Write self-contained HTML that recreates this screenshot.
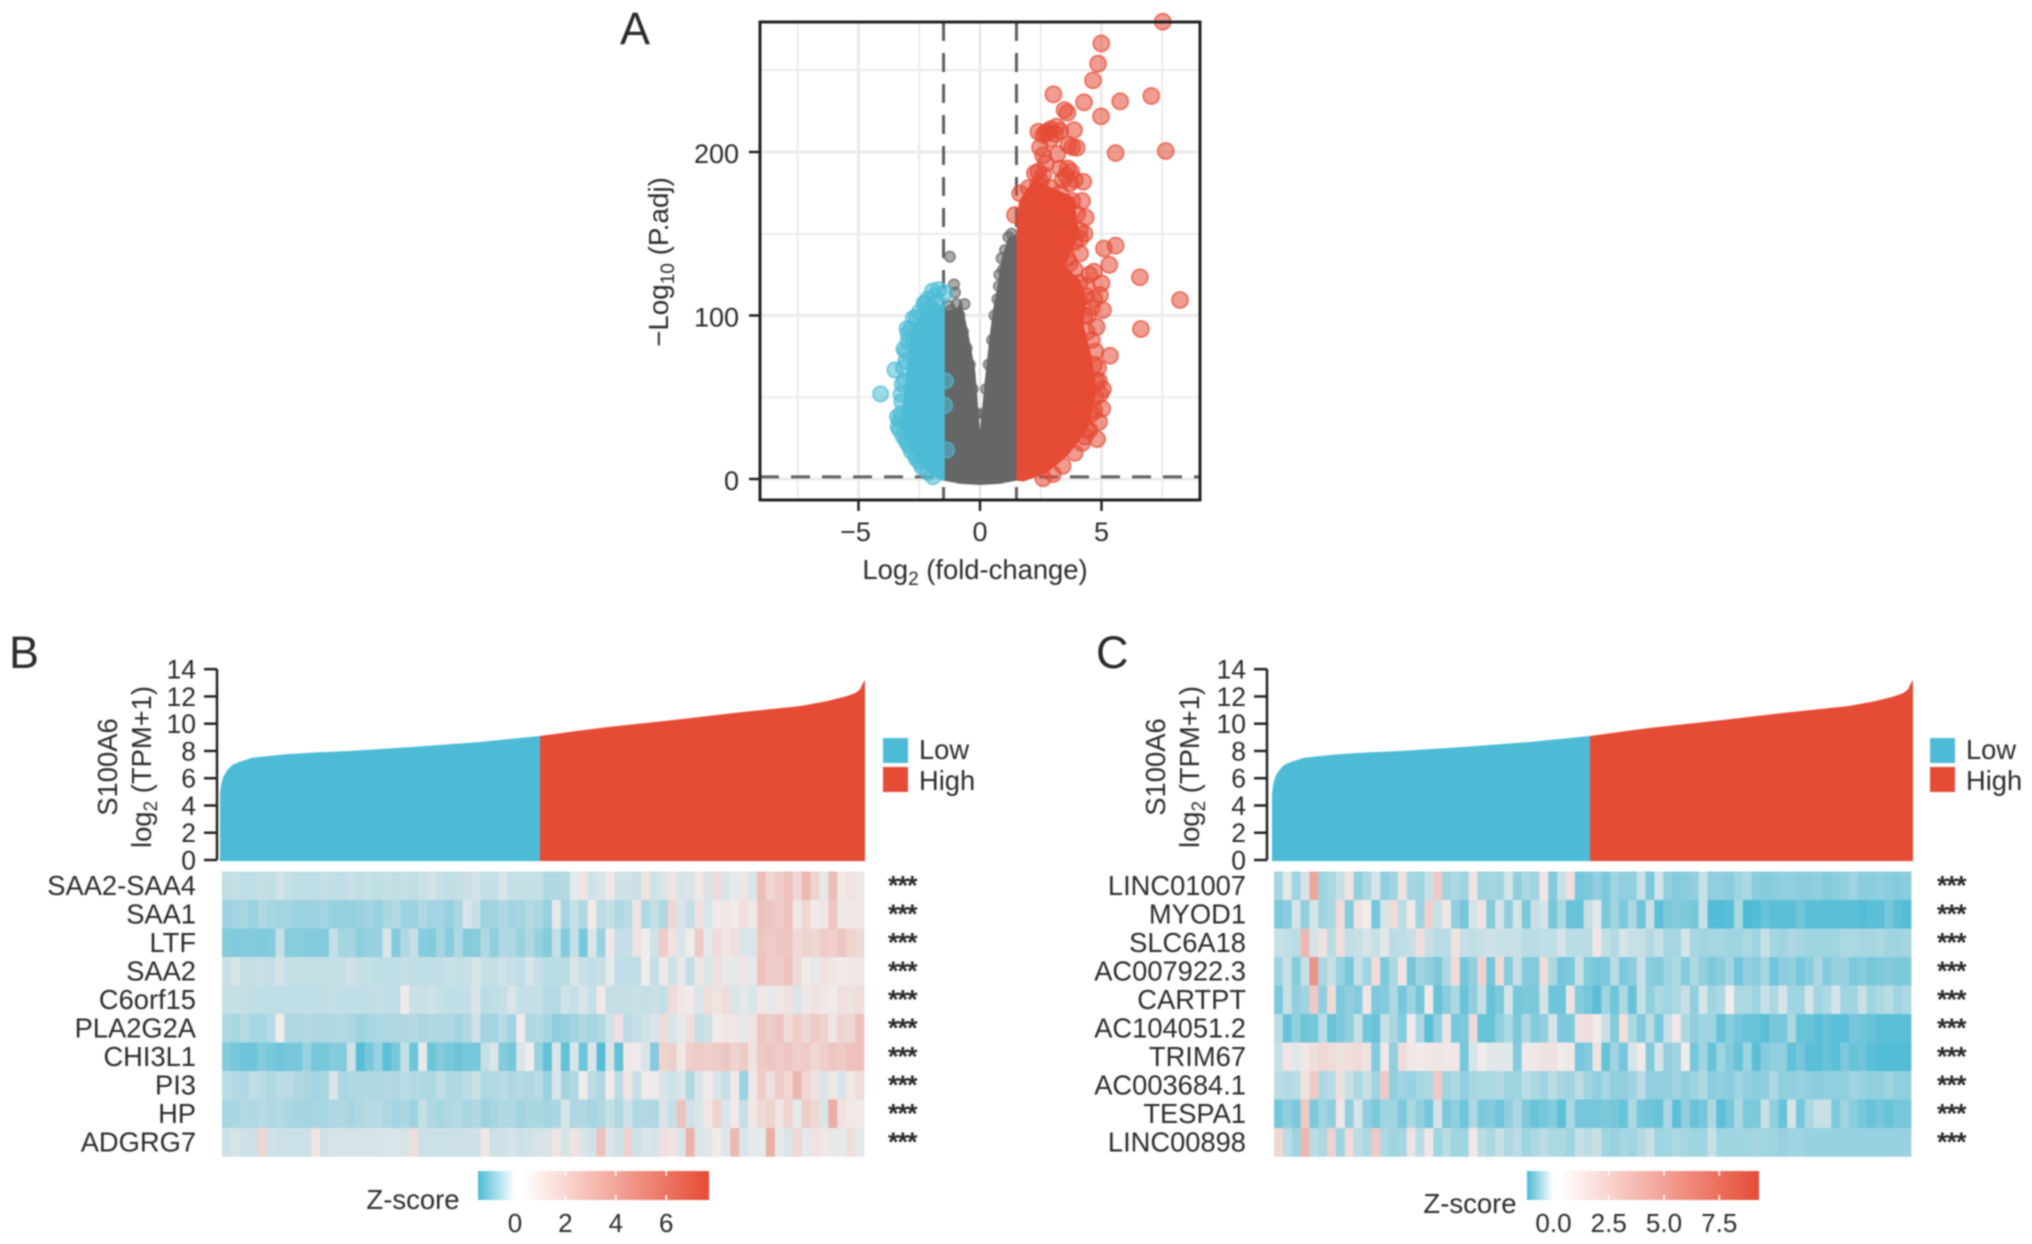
<!DOCTYPE html>
<html lang="en">
<head>
<meta charset="utf-8">
<title>S100A6 volcano plot and heatmaps</title>
<style>
html,body{margin:0;padding:0;background:#fff;}
svg{display:block;filter:blur(.7px);font-family:"Liberation Sans",sans-serif;fill:#2b2b2b;}
</style>
</head>
<body>
<svg id="fig" width="2032" height="1244" viewBox="0 0 2032 1244">
  <g id="volcano"></g>

  <text x="620" y="44" font-size="45">A</text>
  <text x="9" y="668" font-size="45">B</text>
  <text x="1096" y="668" font-size="45">C</text>

  <text transform="translate(668,262) rotate(-90)" text-anchor="middle" font-size="27.8">−Log<tspan font-size="19" dy="6">10</tspan><tspan dy="-6"> (P.adj)</tspan></text>
  <text x="975" y="579" text-anchor="middle" font-size="27.4">Log<tspan font-size="19" dy="6">2</tspan><tspan dy="-6"> (fold-change)</tspan></text>

  <text transform="translate(117,767) rotate(-90)" text-anchor="middle" font-size="27.4">S100A6</text>
  <text transform="translate(151,767) rotate(-90)" text-anchor="middle" font-size="27.4">log<tspan font-size="19" dy="6">2</tspan><tspan dy="-6"> (TPM+1)</tspan></text>
  <text transform="translate(1165,767) rotate(-90)" text-anchor="middle" font-size="27.4">S100A6</text>
  <text transform="translate(1199,767) rotate(-90)" text-anchor="middle" font-size="27.4">log<tspan font-size="19" dy="6">2</tspan><tspan dy="-6"> (TPM+1)</tspan></text>

  <g id="panelB"></g>
  <g id="panelC"></g>
</svg>

<script>
/* ---------- Volcano data: [log2 fold-change, -log10 p.adj] ---------- */
const volcanoXTicks = [-5, 0, 5];
const volcanoYTicks = [0, 100, 200];
const volcanoXGrid = [-7.5, -5, -2.5, 0, 2.5, 5, 7.5];
const volcanoYGrid = [0, 50, 100, 150, 200, 250];
const foldCutoffs = [-1.5, 1.5];
const pCutoff = 1.3;

const grayCloud = [[-1.5,-1],[-.8,-3],[0,-3.7],[.8,-3],[1.5,-1],[1.6,150],[1.17,148],[.89,135],[.69,115.6],[.55,105],[.41,89],[.2,60.5],[0,30],[-.2,66.7],[-.48,89],[-.75,108],[-1,104],[-1.5,102]];
const blueCloud = [[-1.45,-1],[-1.58,-1],[-1.93,1.4],[-2.34,7.5],[-2.75,16],[-3.09,26],[-3.29,34],[-3.16,48],[-3.02,64.7],[-2.96,81],[-2.67,95],[-2.34,103],[-1.95,108],[-1.45,106]];
const redCloud = [[1.5,-1],[1.78,-1.5],[2.74,3.5],[3.57,13.7],[4.12,24],[4.53,34],[4.8,54.4],[4.6,74.8],[4.25,95],[4.4,110],[4.1,122],[3.5,130],[3.8,140],[4.1,150],[3.98,160],[3.9,172],[3,178],[2.2,183],[1.6,170],[1.5,150]];

const grayPoints = [[-1.24,136],[-1.07,119],[-1.03,114],[-.64,107],[-1.27,105.8],[-.97,107],[-1.2,103],[-1.05,98],[-.85,100],[-.7,90],[-.55,80],[-.42,70],[-.3,55],[-.15,40],[.89,135],[1.17,148],[1.03,140],[.95,128],[.8,125],[.78,118],[.72,110],[.6,100],[.5,85],[.36,70],[.25,55],[.12,40],[1.3,150],[1.4,142]];
const bluePoints = [[-4.09,52],[-3.5,66.7],[-2.3,107.4],[-2.74,98.4],[-2.96,89],[-3.13,79.4],[-3.22,47.3],[-3.37,32],[-3.16,26],[-2.83,17],[-2.4,7.5],[-1.93,1.4],[-1.37,17.7],[-1.95,115],[-2.28,107],[-2.62,98.7],[-1.7,115.8],[-1.44,113.9],[-2.72,87],[-2.96,84],[-3.05,72],[-3.1,60],[-3.25,40],[-3.3,36],[-3,22],[-2.6,12],[-2.15,4],[-1.75,108],[-2.1,104],[-1.42,60],[-1.45,45],[-3.3,30],[-3.4,38],[-3.25,52],[-3.2,58],[-3.15,68],[-3.05,78],[-3,92],[-2.85,92],[-2.5,102],[-2.15,110],[-1.85,112],[-3.05,24],[-2.9,20],[-2.65,14],[-2.45,10]];
const redPoints = [[7.52,279.7],[4.99,266.4],[4.86,254],[4.65,243.8],[3.02,235.3],[4.28,230.4],[5.77,231],[7.05,234.3],[3.48,225.7],[3.6,224],[4.98,221.8],[3.87,213.4],[3.15,215.5],[3.3,213],[2.81,212.4],[2.4,212.4],[2.61,210.4],[2.9,208],[2.47,202.8],[3.64,204.3],[3.8,203],[3.98,202.6],[3.18,198.8],[5.58,199.4],[7.64,200.6],[3.61,190],[2.4,188],[2.26,187],[2.61,186],[2.5,182],[3.54,185.3],[3.4,183],[3.7,181],[4.25,181.8],[1.65,174.7],[1.44,161.5],[4.12,147],[5.1,141],[5.58,142.7],[4.12,138],[3.7,132],[5.32,131],[6.58,123.4],[4.69,126.8],[5,119.7],[8.23,109.5],[4.94,112.5],[6.62,91.7],[5.35,75.4],[4.82,24.4],[5.03,43],[5.06,54.9],[5.06,103.3],[4.8,93],[4.6,85],[4.86,67.9],[2.6,.5],[4.32,25.9],[3,3],[3.4,8],[3.9,16],[4.2,22],[4.4,30],[4.6,40],[4.75,50],[4.8,60],[4.7,70],[4.4,90],[4.3,100],[4.35,112],[4.1,120],[3.9,128],[3.6,135],[3.9,145],[4.1,152],[4,162],[3.8,170],[3.3,175],[2.9,178],[2.4,180],[2,178],[2.7,170],[3.5,168],[2.6,198],[2.7,193],[3.3,190],[2.7,212],[2.9,214],[3.1,211],[3.75,188],[3.9,183],[4.9,60],[4.95,52],[4.7,42],[4.5,30],[4.45,100],[4.6,105],[4.4,118],[4.3,150],[4.35,160],[4.2,170],[4.5,125],[4.7,110],[4.75,78],[4.9,35]];

/* ---------- S100A6 expression, samples ranked low to high ---------- */
const exprTicks = [0, 2, 4, 6, 8, 10, 12, 14];
const exprRankPct = [0,.2,.5,1,1.5,2,3,4,5,7,10,15,20,30,40,49.6,55,60,70,80,85,90,94,97,98.5,99.2,99.7,100];
const exprValues = [4.8,5.6,6.1,6.5,6.8,7,7.2,7.35,7.5,7.6,7.75,7.9,8,8.3,8.65,9.1,9.45,9.75,10.25,10.8,11.05,11.3,11.65,12,12.25,12.5,13,13.2];
const exprSplitPct = 49.6;
const exprSplitValue = 9.1;
const groupLabels = ['Low', 'High'];

/* ---------- Heatmap B ---------- */
const genesB = ['SAA2-SAA4','SAA1','LTF','SAA2','C6orf15','PLA2G2A','CHI3L1','PI3','HP','ADGRG7'];
const heatB = [
[-.22,-.2,-.22,-.22,-.2,-.22,-.14,-.2,-.22,-.22,-.22,-.2,-.22,-.22,-.18,-.22,-.2,-.22,-.2,-.22,-.2,-.22,-.18,-.14,-.2,-.22,-.2,-.18,-.14,-.2,-.2,-.1,-.2,-.2,-.2,-.2,-.3,-.3,-.28,-.05,.4,-.15,-.1,.2,-.15,-.15,-.18,.5,-.15,-.1,.4,-.12,-.1,.2,-.12,.8,-.1,-.05,.3,-.1,2.2,1,1.5,2,1,2.5,1.2,-.05,2.2,.2,.5,.2],
[-.38,-.36,-.34,-.4,-.3,-.34,-.36,-.36,-.4,-.4,-.38,-.36,-.42,-.42,-.42,-.4,-.36,-.4,-.32,-.28,-.38,-.38,-.3,-.36,-.36,-.42,-.32,-.1,-.2,-.38,-.36,-.3,-.36,-.34,-.28,-.32,-.42,-.05,-.35,-.2,-.3,.1,-.25,-.2,-.3,-.25,.4,-.3,-.2,-.3,1,-.1,-.2,.5,-.1,.1,.3,.1,.6,.2,2,1.8,1.5,2,.3,1,.1,.3,1.8,.3,.2,.3],
[-.5,-.52,-.5,-.5,-.52,-.5,-.2,-.48,-.48,-.5,-.5,-.5,-.2,-.35,-.35,-.45,-.42,-.42,-.1,-.5,-.3,-.2,-.48,-.5,-.35,-.48,-.3,-.5,-.48,-.3,-.45,-.3,-.3,-.4,-.3,-.42,-.5,-.2,-.5,-.2,-.55,-.1,-.4,.2,-.2,-.2,.5,0,-.15,1.5,.5,-.1,0,1.6,-.05,.8,.3,.6,-.1,-.1,1.8,1.6,1.8,1.8,.9,1.2,1,1.5,1.4,1.8,1.2,.9],
[-.18,-.12,-.2,-.2,-.18,-.2,-.12,-.2,-.2,-.2,-.2,-.2,-.2,-.2,-.15,-.2,-.2,-.22,-.22,-.22,-.2,-.22,-.22,-.22,-.22,-.18,-.2,-.18,-.1,-.2,-.2,-.15,-.2,-.22,-.1,-.2,-.25,-.25,-.25,-.1,-.2,-.22,-.2,-.05,-.22,-.22,-.22,0,-.2,.2,-.15,-.05,-.2,.3,-.1,.6,-.05,-.05,.3,-.05,2,1.5,1.5,2,.9,0,-.05,.5,.3,.1,.2,.3],
[-.2,-.2,-.2,-.22,-.22,-.22,-.22,-.22,-.22,-.22,-.22,-.22,-.2,-.22,-.22,-.22,-.22,-.2,-.22,-.22,.1,-.18,-.18,-.15,-.2,-.22,-.22,-.2,-.1,-.25,-.22,-.2,-.1,-.2,-.2,-.2,-.28,-.28,-.15,-.2,-.1,-.2,.15,-.2,-.2,-.2,-.18,-.2,-.18,-.2,.8,.3,.1,-.1,.7,.4,.7,-.1,-.05,-.1,.2,-.05,.3,.5,-.1,.3,.5,.2,.1,.6,.5,.7],
[-.3,-.34,-.26,-.34,-.34,-.26,.02,-.3,-.3,-.28,-.3,-.3,-.3,-.28,-.32,-.38,-.34,-.32,-.3,-.3,-.3,-.28,-.32,-.3,-.3,-.3,-.35,-.3,-.15,-.36,-.36,-.26,-.36,.1,-.3,-.28,-.34,-.45,-.42,-.36,-.3,-.34,-.3,-.15,.6,-.25,-.2,-.15,-.1,.8,-.1,-.05,.6,-.2,-.15,0,.2,.3,-.05,.4,1.8,1.5,1.8,.8,1.5,.9,1.6,1.2,.3,1.2,1,2],
[-.5,-.55,-.6,-.6,-.5,-.55,-.6,-.55,-.55,-.4,-.55,-.55,-.5,-.5,-.15,-.7,-.55,-.4,-.68,-.55,-.2,-.6,-.05,-.6,-.5,-.55,-.6,-.55,-.55,-.2,-.1,-.5,-.55,-.1,0,-.4,-.65,-.1,-.65,-.1,-.6,-.1,-.7,-.1,-.65,.2,.1,-.1,-.5,1.2,1.4,.2,1.4,1.6,1.4,1.6,1.8,1.2,1.6,.5,1.6,1.8,1.6,1.8,1.4,1.6,1,1.4,1.8,1.6,2,2],
[-.25,-.28,-.3,-.22,-.25,-.3,-.25,-.25,-.3,-.32,-.36,-.32,-.1,-.32,-.3,-.3,-.3,-.3,-.28,-.3,-.25,-.28,-.3,-.3,-.22,-.3,-.3,-.25,-.18,-.3,-.28,-.25,-.3,-.28,-.3,-.25,-.4,-.1,-.35,-.3,0,-.25,-.3,.1,-.25,.3,-.2,.1,.1,-.1,-.15,-.1,-.3,-.1,.1,-.1,-.2,.2,-.4,.3,1.5,.6,1.5,1,2.5,1,.5,-.1,.3,-.1,.2,.7],
[-.33,-.32,-.28,-.3,-.26,-.3,-.28,-.32,-.34,-.36,-.33,-.34,-.3,-.3,-.34,-.3,-.26,-.26,-.3,-.36,-.32,-.38,-.2,-.3,-.34,-.3,-.28,-.34,-.3,-.38,-.34,-.3,-.3,-.36,-.32,-.32,-.35,-.32,-.12,-.3,-.3,-.34,-.3,-.2,-.3,-.15,-.3,-.28,-.3,-.1,-.2,2,-.15,-.1,.3,1.2,-.1,.1,-.2,.2,.9,1.2,.4,1.2,-.05,1.5,1,-.1,3,.5,.2,.1],
[-.17,-.12,-.15,-.17,1,-.15,-.17,-.17,-.17,-.17,.4,-.15,-.12,-.12,-.12,-.13,-.13,-.13,-.1,-.1,-.12,.7,-.17,-.17,-.17,-.17,-.17,-.15,-.15,.3,-.17,-.15,-.12,-.17,-.15,-.12,-.12,.4,-.12,.5,-.1,-.15,2,-.1,-.15,1.3,-.15,-.1,-.12,.6,.4,-.1,2.8,-.1,-.08,.1,-.08,2.5,-.1,-.05,-.05,3,-.05,-.1,1,-.05,.5,.2,-.05,-.05,.7,-.05]
];
const zTicksB = [0, 2, 4, 6];

/* ---------- Heatmap C ---------- */
const genesC = ['LINC01007','MYOD1','SLC6A18','AC007922.3','CARTPT','AC104051.2','TRIM67','AC003684.1','TESPA1','LINC00898'];
const heatC = [
[-.55,-.1,-.6,-.2,4,-.6,-.5,-.3,.5,-.7,-.5,-.2,-.7,-.6,.5,-.55,-.6,-.3,2,-.6,-.5,-.6,.5,-.6,-.55,-.6,-.2,-.7,-.5,-.6,.4,-.8,-.3,.8,-.9,-.85,-.7,-.85,-.6,-.7,-.7,-.3,-.85,-.2,-.7,-.8,-.75,-.7,-.3,-.7,-.7,-.75,-.6,-.5,-.75,-.8,-.75,-.7,-.7,-.75,-.75,-.7,-.8,-.75,-.7,-.6,-.75,-.75,-.7,-.75,-.8,-.75],
[-.85,-.75,-.2,-.7,-.2,-.6,-.5,1,-.8,.5,0,-.9,-.2,1,-.4,.2,-.6,1.5,-.3,.3,-.7,-.9,-.2,.5,-.8,-.2,-.7,-.2,-.85,-.3,-.2,-.9,-.5,-1,-1,-.3,-.1,-.85,-.6,-.85,-.5,-.95,-.3,-1.1,-.85,-.8,-.85,-.9,-.3,-1.15,-1.15,-1.1,-.5,-1.2,-1.15,-1,-1.1,-1.1,-1.1,-.95,-1.1,-1.1,-1.1,-1.1,-1.1,-1.1,-1.15,-1.1,-1.1,-.9,-1.1,-1.15],
[-.3,-.35,-.4,3,-.2,.5,-.4,.8,-.35,-.3,-.2,-.3,-.1,-.4,-.35,-.3,.8,-.3,-.4,-.4,.5,-.3,-.35,-.3,-.25,-.3,-.3,-.3,-.4,-.4,-.35,-.35,-.2,-.4,-.4,-.4,.4,-.35,-.45,-.2,-.3,-.3,-.45,-.3,-.55,-.55,-.2,-.55,-.6,-.55,-.55,-.6,-.6,-.5,-.6,-.3,-.55,-.6,-.5,-.55,-.6,-.6,-.6,-.6,-.5,-.5,-.55,-.55,-.5,-.6,-.6,-.55],
[-.6,-.3,-.8,-.3,5,-.5,-.3,-.65,-.9,-.3,-.6,1,-.85,-.5,.5,-.9,-.6,-.7,-.85,-.5,1,-.9,-.7,1.5,-.9,1,-.8,-.3,-.8,-.8,1,-.5,-.9,-.85,-.3,-.8,-.9,-.85,-.4,-.85,-.75,-.3,-.75,-.8,-.6,-.5,-.8,-.5,-.7,-.85,-.75,-.55,-.95,-.7,-.75,-.55,-.95,-.75,-.7,-.9,-.75,-.5,-.8,-.65,-.65,-.85,-.8,-.9,-.85,-.8,-.85,-.85],
[-.85,-.3,-.7,-.6,2,-.7,1,-.85,-.7,-.8,.4,-.85,-.8,-.5,-.9,-.6,-.9,.2,-1,-.75,-.5,-1,-.7,-.3,-1,-.85,-.2,-.9,-.85,-.85,-.2,-.95,-.95,.5,-.8,-.9,-1.1,-.6,-.95,-.5,-1,-.3,-.7,-.5,-.6,-.5,-.3,-.7,-.2,-.6,-.5,0,-.5,-.5,-.6,-.3,-.5,-.2,-.6,-.6,-.2,-.6,-.5,-.2,-.6,-.6,-.3,-.6,-.5,-.4,-.6,-.5],
[-.4,-1,-.7,-.95,-.9,-.4,-1,-.85,-.7,-.3,-.9,-1,-.3,-.5,-.8,.1,-.5,-1.1,-.7,.5,-.9,-.85,1,-1,-1,-.7,-.5,-.85,-.5,-.8,-.7,-.2,-.85,-.85,.5,.8,.1,-.3,-.8,.8,-.5,-.8,-.4,-.9,-.3,.3,-.5,-.7,-.6,-.6,-1,-.75,-.9,-1,-1,-1.1,-.9,-.9,-.5,-1,-1,-1.1,-1,-1.1,-1.1,-.9,-.95,-1,-1.1,-1.1,-1.1,-1.1],
[-.3,.4,-.1,.3,.8,1.2,1,.6,.8,.9,.6,-.8,.3,-.7,1,.3,.1,.3,.4,.2,.3,-.9,-.2,0,-.1,-.1,-.1,-.8,.2,.3,.5,.6,0,.3,-.9,-.8,.5,-1,-.6,-.9,-.2,.1,-.8,-.2,-.7,-.6,0,-.9,-.6,-1,-.6,-.8,-1,-.6,-1.1,-.8,-.7,-.7,-1.05,-.9,-1.1,-1.1,-1,-1.1,-.85,-1,-.95,-1.1,-1.15,-1.15,-1.15,-1.15],
[-.4,-.45,-.4,.5,2,-.5,-.4,.7,-.3,-.5,-.3,-.6,2,-.7,-.6,-.65,-.55,-.5,2,-.6,-.5,-.7,-.55,-.5,-.5,-.45,-.6,-.6,-.4,-.5,-.6,-.4,-.55,-.6,-.4,-.6,-.7,-.55,-.7,-.7,-.6,-.4,-.7,-.7,-.7,-.6,-.7,-.6,-.5,-.75,-.7,-.75,-.6,-.7,-.75,-.7,-.5,-.7,-.7,-.65,-.7,-.75,-.7,-.7,-.7,-.6,-.65,-.7,-.7,-.6,-.7,-.7],
[-.9,-.7,-.85,2,-.85,-.6,-.7,.3,-.7,-.2,-.7,-.85,-.6,-.6,-.85,-.5,-.7,-.9,-.2,-.85,-.7,-.95,-.5,-.85,-.8,-.95,-.7,-.5,-.85,-1,-.9,-.8,-1.1,-.5,-.9,-.9,-.9,-.85,-.9,-1,-.5,-.9,-.95,-1,-.5,-1.1,-.7,-1,-.9,-.5,-1.1,-.9,-.5,-.85,-.85,-.3,-.7,-1,-.2,-.9,-.5,-.3,-.3,-.85,-.6,-.75,-.9,-1,-.9,-1,-.9,-.9],
[1.2,-.4,-.6,3,-.4,-.5,1.5,-.6,1,-.4,-.5,2,-.5,-.6,-.55,.5,-.4,.3,-.6,-.4,-.6,-.6,.3,-.4,-.5,-.3,-.5,-.4,-.6,-.5,-.4,-.5,-.5,-.6,-.3,-.4,-.3,-.6,-.65,-.55,-.6,-.45,-.3,-.6,-.6,-.5,-.55,-.6,-.6,-.3,-.6,-.6,-.6,-.6,-.55,-.6,-.6,-.65,-.6,-.6,-.65,-.65,-.65,-.65,-.65,-.65,-.65,-.65,-.65,-.65,-.65,-.65]
];
const zTicksC = [0, 2.5, 5, 7.5];

/* ---------- helpers ---------- */
const NS = 'http://www.w3.org/2000/svg';
const BLUE = [77,187,213], RED = [230,75,53];
const CELL_MID = [240,236,236];
function mk(tag, attrs, parent) {
  const el = document.createElementNS(NS, tag);
  for (const k in attrs) el.setAttribute(k, attrs[k]);
  parent.appendChild(el);
  return el;
}
function mix(c, t) {
  t = Math.max(0, Math.min(1, t));
  return 'rgb(' + c.map(function (v, i) { return Math.round(CELL_MID[i] + (v - CELL_MID[i]) * t); }).join(',') + ')';
}
function heatColor(v, lo, hi) {
  return v < 0 ? mix(BLUE, v / lo) : mix(RED, v / hi);
}

/* ---------- volcano ---------- */
const vol = document.getElementById('volcano');
const volX = function (v) { return 980 + 24.3 * v; };
const volY = function (v) { return 479 - 1.635 * v; };
const frame = { l: 760, r: 1200, t: 22, b: 500 };

volcanoXGrid.forEach(function (g) {
  const el = mk('line', { x1: volX(g), x2: volX(g), y1: frame.t, y2: frame.b, stroke: '#ebebeb', 'stroke-width': g % 5 === 0 ? 3 : 2 }, vol);
  
  
});
volcanoYGrid.forEach(function (g) {
  const el = mk('line', { x1: frame.l, x2: frame.r, y1: volY(g), y2: volY(g), stroke: '#ebebeb', 'stroke-width': g % 100 === 0 ? 3 : 2 }, vol);
  
  
});
foldCutoffs.forEach(function (c) {
  const el = mk('line', { x1: volX(c), x2: volX(c), y1: frame.t, y2: frame.b, stroke: '#5f5f5f', 'stroke-width': 3, 'stroke-dasharray': '19 12' }, vol);
  
  
});
const pLine = mk('line', { x1: frame.l, x2: frame.r, y1: volY(pCutoff), y2: volY(pCutoff), stroke: '#5f5f5f', 'stroke-width': 3, 'stroke-dasharray': '19 12' }, vol);



function drawCloud(cloud, pts, color, r, name) {
  const css = 'rgb(' + color.join(',') + ')';
  const poly = mk('polygon', { points: cloud.map(function (p) { return volX(p[0]) + ',' + volY(p[1]); }).join(' '), fill: css }, vol);
  
  
  pts.forEach(function (p) {
    const c = mk('circle', { cx: volX(p[0]), cy: volY(p[1]), r: r, fill: css, 'fill-opacity': .55, stroke: css, 'stroke-opacity': .7, 'stroke-width': 1.8 }, vol);
    
    
  });
}
drawCloud(grayCloud, grayPoints, [102,102,102], 5.2, 'not-significant');
drawCloud(blueCloud, bluePoints, BLUE, 7.6, 'down-regulated');
drawCloud(redCloud, redPoints, RED, 8, 'up-regulated');

const box = mk('rect', { x: frame.l, y: frame.t, width: frame.r - frame.l, height: frame.b - frame.t, fill: 'none', stroke: '#222', 'stroke-width': 3 }, vol);



volcanoXTicks.forEach(function (t) {
  const k = mk('line', { x1: volX(t), x2: volX(t), y1: frame.b, y2: frame.b + 11, stroke: '#222', 'stroke-width': 2.5 }, vol);
  
  
  const l = mk('text', { x: volX(t) - (t < 0 ? 3 : 0), y: 541, 'text-anchor': 'middle', 'font-size': 27 }, vol);
  l.textContent = t < 0 ? '−' + Math.abs(t) : String(t);
  
  
});
volcanoYTicks.forEach(function (t) {
  const k = mk('line', { x1: frame.l - 11, x2: frame.l, y1: volY(t), y2: volY(t), stroke: '#222', 'stroke-width': 2.5 }, vol);
  
  
  const l = mk('text', { x: 739, y: volY(t) + 11, 'text-anchor': 'end', 'font-size': 27 }, vol);
  l.textContent = String(t);
  
  
});

/* ---------- heatmap panels ---------- */
function drawPanel(host, o) {
  const exY = function (v) { return 860 - 13.63 * v; };
  const exX = function (p) { return o.areaL + p / 100 * (o.areaR - o.areaL); };

  /* ranked expression areas */
  const lowPts = [], highPts = [];
  exprRankPct.forEach(function (p, i) {
    if (p <= exprSplitPct) lowPts.push(exX(p) + ',' + exY(exprValues[i]));
    if (p >= exprSplitPct) highPts.push(exX(p) + ',' + exY(exprValues[i]));
  });
  const base = exY(-.08);
  const low = mk('polygon', { points: exX(0) + ',' + base + ' ' + lowPts.join(' ') + ' ' + exX(exprSplitPct) + ',' + exY(exprSplitValue) + ' ' + exX(exprSplitPct) + ',' + base, fill: 'rgb(77,187,213)' }, host);
  
  
  const high = mk('polygon', { points: exX(exprSplitPct) + ',' + base + ' ' + highPts.join(' ') + ' ' + exX(100) + ',' + base, fill: 'rgb(230,75,53)' }, host);
  
  

  /* expression axis */
  const axis = mk('line', { x1: o.axisX, x2: o.axisX, y1: exY(14), y2: exY(0), stroke: '#222', 'stroke-width': 2.5 }, host);
  
  
  exprTicks.forEach(function (t) {
    const k = mk('line', { x1: o.axisX - 13, x2: o.axisX, y1: exY(t), y2: exY(t), stroke: '#222', 'stroke-width': 2.5 }, host);
    
    
    const l = mk('text', { x: o.axisX - 21, y: exY(t) + 9.5, 'text-anchor': 'end', 'font-size': 26.5 }, host);
    l.textContent = String(t);
    
    
  });

  /* group legend */
  groupLabels.forEach(function (g, i) {
    const s = mk('rect', { x: o.legX, y: 738 + i * 29, width: 25, height: 25, fill: i ? 'rgb(230,75,53)' : 'rgb(77,187,213)' }, host);
    
    
    const t = mk('text', { x: o.legX + 36, y: 759 + i * 31, 'font-size': 27.3 }, host);
    t.textContent = g;
    
    
  });

  /* heatmap cells and row labels */
  const rowH = 28.5;
  o.rows.forEach(function (row, r) {
    const y = 871.5 + r * rowH;
    const w = (o.heatR - o.heatL) / row.length;
    row.forEach(function (v, c) {
      const cell = mk('rect', { x: o.heatL + c * w, y: y, width: w + .4, height: rowH + .3, fill: heatColor(v, o.lo, o.hi) }, host);
      
      
    });
    const lab = mk('text', { x: o.labelR, y: y + 23.5, 'text-anchor': 'end', 'font-size': 27.3 }, host);
    lab.textContent = o.genes[r];
    
    
    const st = mk('text', { x: o.starX, y: y + 23, 'font-size': 27, 'font-weight': 'bold', 'letter-spacing': '-1' }, host);
    st.textContent = '***';
    
    
  });

  /* z-score colour legend */
  const zx = function (v) { return o.zA + o.zB * v; };
  const zl = zx(o.zLo), zr = zx(o.zHi);
  const gid = 'grad' + host.id;
  const defs = mk('defs', {}, host);
  const grad = mk('linearGradient', { id: gid, x1: 0, x2: 1, y1: 0, y2: 0 }, defs);
  const stops = [[0,'rgb(77,187,213)'],[(zx(0) - zl) / (zr - zl),'#fff'],[(zx(.3) - zl) / (zr - zl),'#fff'],[1,'rgb(230,75,53)']];
  stops.forEach(function (s) { mk('stop', { offset: s[0], 'stop-color': s[1] }, grad); });
  const bar = mk('rect', { x: zl, y: 1171, width: zr - zl, height: 29, fill: 'url(#' + gid + ')' }, host);
  
  
  o.zTicks.forEach(function (t) {
    [[1171,1176],[1195,1200]].forEach(function (s) {
      const k = mk('line', { x1: zx(t), x2: zx(t), y1: s[0], y2: s[1], stroke: '#fff', 'stroke-width': 1.5 }, host);
      
      
    });
    const l = mk('text', { x: zx(t), y: 1232, 'text-anchor': 'middle', 'font-size': 26 }, host);
    l.textContent = t.toFixed(o.zDigits);
    
    
  });
  const zt = mk('text', { x: o.zTitleX, y: o.zTitleY, 'text-anchor': 'middle', 'font-size': 27.5 }, host);
  zt.textContent = 'Z-score';
  
  
}

drawPanel(document.getElementById('panelB'), {
  rows: heatB, genes: genesB, zTicks: zTicksB, zDigits: 0,
  areaL: 220, areaR: 865, axisX: 217, legX: 883,
  heatL: 222, heatR: 864, labelR: 196, starX: 888,
  lo: -.75, hi: 7.7,
  zA: 515, zB: 25.2, zLo: -1.47, zHi: 7.7, zTitleX: 413, zTitleY: 1209
});
drawPanel(document.getElementById('panelC'), {
  rows: heatC, genes: genesC, zTicks: zTicksC, zDigits: 1,
  areaL: 1272, areaR: 1913, axisX: 1267, legX: 1930,
  heatL: 1274, heatR: 1911, labelR: 1246, starX: 1937,
  lo: -1.2, hi: 9.3,
  zA: 1553.5, zB: 22.1, zLo: -1.2, zHi: 9.3, zTitleX: 1470, zTitleY: 1213
});
</script>
</body>
</html>
